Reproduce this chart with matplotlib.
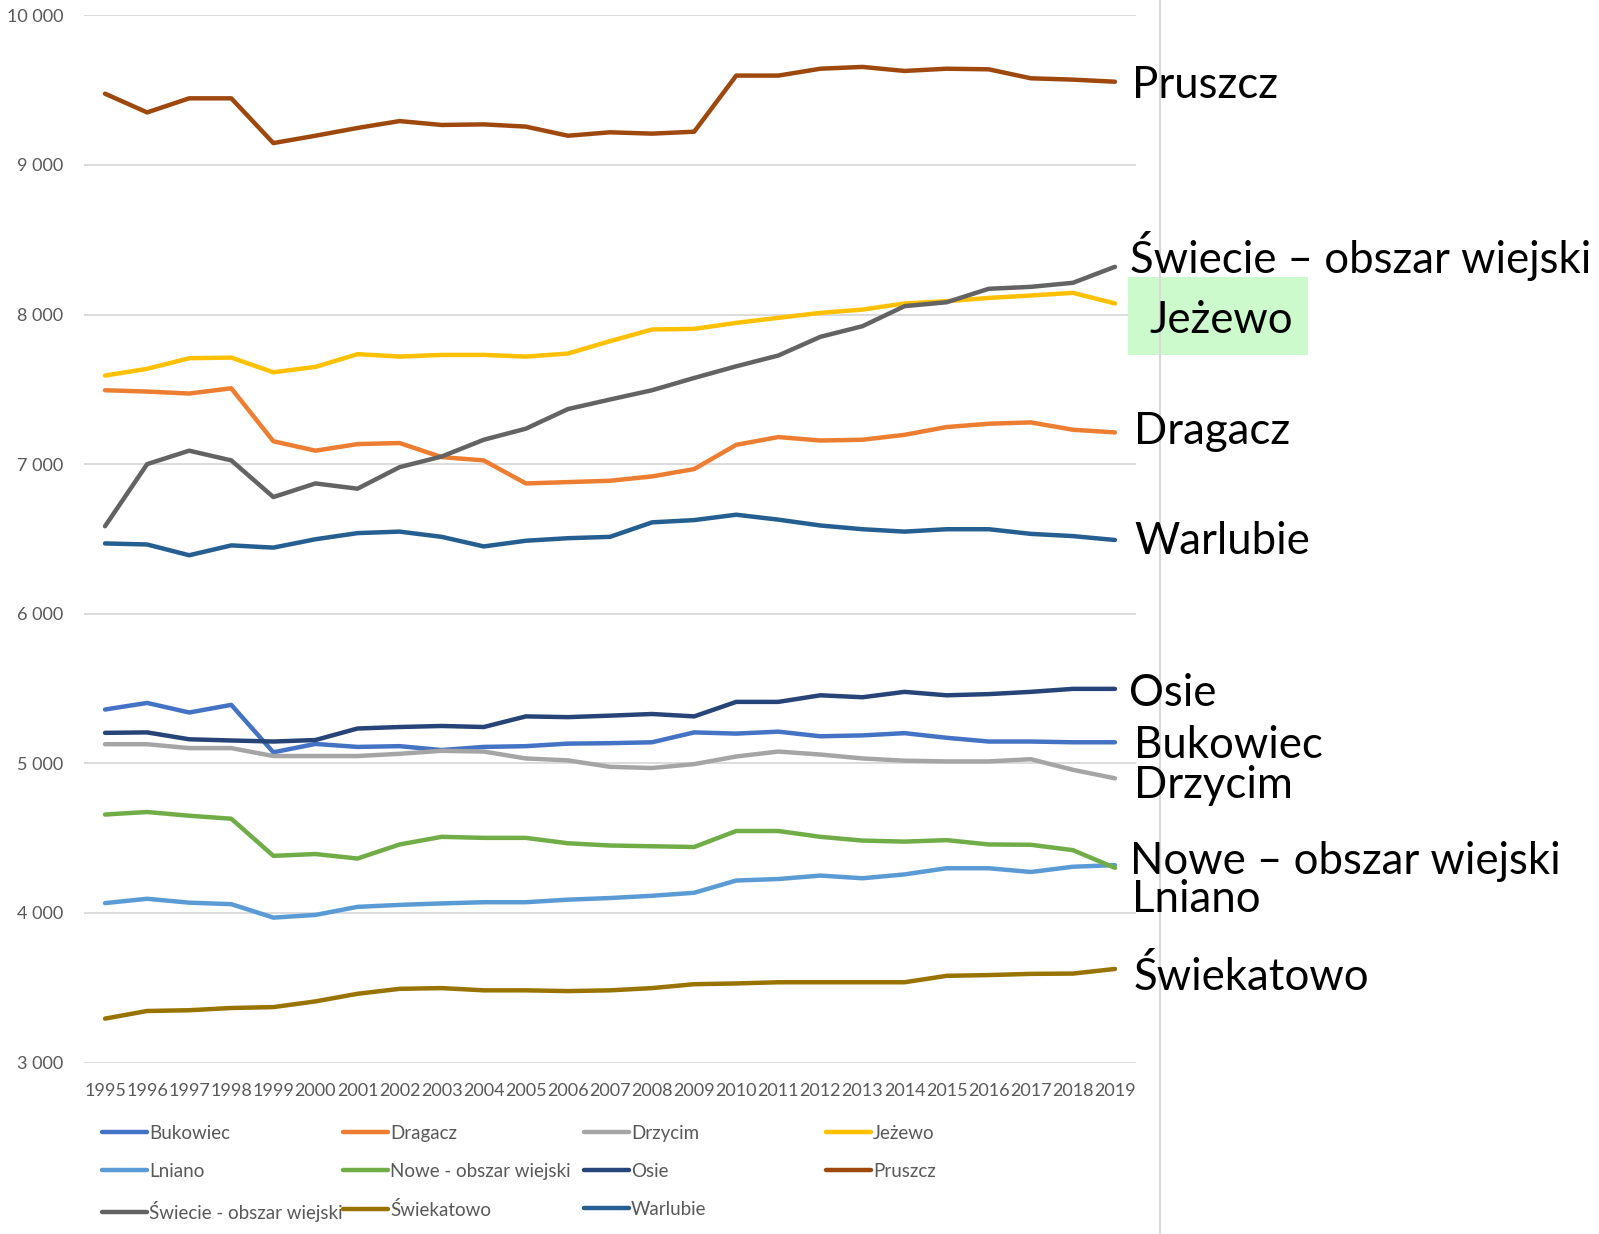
import matplotlib
matplotlib.use("Agg")
import matplotlib.pyplot as plt
from matplotlib.lines import Line2D
from matplotlib.patches import Rectangle

W, H = 1599, 1234

years = list(range(1995, 2020))

bukowiec = [5360, 5404, 5340, 5391, 5074, 5130, 5110, 5115, 5089, 5110, 5115, 5132,
            5135, 5141, 5207, 5199, 5212, 5181, 5187, 5202, 5171, 5146, 5146, 5141, 5141]
dragacz = [7494, 7485, 7472, 7507, 7153, 7090, 7134, 7141, 7047, 7025, 6871, 6880,
           6889, 6918, 6967, 7129, 7181, 7158, 7163, 7196, 7248, 7270, 7279, 7230, 7212]
drzycim = [5128, 5128, 5102, 5102, 5049, 5049, 5049, 5064, 5084, 5079, 5033, 5020,
           4977, 4969, 4995, 5046, 5079, 5059, 5033, 5018, 5013, 5013, 5028, 4957, 4900]
jezewo = [7592, 7637, 7708, 7712, 7614, 7650, 7735, 7719, 7730, 7730, 7719, 7739,
          7822, 7900, 7904, 7944, 7978, 8011, 8033, 8074, 8089, 8111, 8127, 8145, 8074]
lniano = [4066, 4095, 4069, 4059, 3969, 3987, 4041, 4054, 4064, 4072, 4072, 4089,
          4100, 4115, 4135, 4217, 4227, 4250, 4232, 4258, 4299, 4299, 4274, 4309, 4320]
nowe = [4658, 4675, 4650, 4630, 4382, 4394, 4364, 4458, 4509, 4502, 4502, 4466,
        4451, 4446, 4441, 4548, 4548, 4509, 4484, 4477, 4487, 4458, 4456, 4420, 4302]
osie = [5204, 5207, 5161, 5153, 5146, 5156, 5233, 5243, 5250, 5243, 5314, 5309,
        5319, 5330, 5314, 5411, 5411, 5455, 5442, 5478, 5455, 5463, 5478, 5498, 5498]
pruszcz = [9476, 9351, 9445, 9445, 9146, 9195, 9247, 9293, 9267, 9271, 9256, 9195,
           9218, 9209, 9222, 9597, 9597, 9643, 9655, 9628, 9643, 9639, 9579, 9570, 9556]
swiecie = [6585, 7000, 7090, 7025, 6780, 6871, 6836, 6980, 7051, 7163, 7237, 7368,
           7432, 7494, 7576, 7654, 7726, 7851, 7922, 8056, 8082, 8172, 8185, 8212, 8319]
swiekatowo = [3294, 3345, 3350, 3365, 3371, 3409, 3460, 3493, 3498, 3483, 3483, 3478,
              3483, 3498, 3524, 3529, 3537, 3537, 3537, 3537, 3580, 3585, 3593, 3595, 3626]
warlubie = [6470, 6463, 6391, 6457, 6442, 6498, 6539, 6549, 6514, 6450, 6488, 6505,
            6514, 6611, 6626, 6662, 6629, 6590, 6565, 6549, 6565, 6565, 6534, 6519, 6493]

series_names = ["Bukowiec", "Dragacz", "Drzycim", "Jeżewo", "Lniano",
                "Nowe - obszar wiejski", "Osie", "Pruszcz",
                "Świecie - obszar wiejski", "Świekatowo", "Warlubie"]
series_values = [bukowiec, dragacz, drzycim, jezewo, lniano, nowe, osie, pruszcz,
                 swiecie, swiekatowo, warlubie]
colors = ["#4472C4", "#ED7D31", "#A5A5A5", "#FFC000", "#5B9BD5", "#70AD47",
          "#264478", "#9E480E", "#636363", "#997300", "#255E91"]

yticks = [3000, 4000, 5000, 6000, 7000, 8000, 9000, 10000]
ytick_labels = ["3 000", "4 000", "5 000", "6 000", "7 000", "8 000", "9 000", "10 000"]

right_labels = ["Pruszcz", "Świecie – obszar wiejski", "Jeżewo", "Dragacz", "Warlubie",
                "Osie", "Bukowiec", "Drzycim", "Nowe – obszar wiejski", "Lniano", "Świekatowo"]

FONT = ["Lato", "DejaVu Sans"]
plt.rcParams["font.family"] = FONT

fig = plt.figure(figsize=(W / 100, H / 100), dpi=100)
fig.patch.set_facecolor("white")

def fx(x):
    return x / W

def fy(y):
    return 1 - y / H

left, right, top, bottom = 84, 1136, 15.3, 1062.6
ax = fig.add_axes([fx(left), fy(bottom), fx(right) - fx(left), fy(top) - fy(bottom)])

x = list(range(len(years)))
for name, vals, c in zip(series_names, series_values, colors):
    ax.plot(x, vals, color=c, lw=3.2, solid_capstyle="round",
            solid_joinstyle="round", label=name, zorder=3)

ax.set_xlim(-0.5, len(years) - 0.5)
ax.set_ylim(3000, 10000)
ax.set_yticks(yticks)
ax.set_yticklabels(ytick_labels)
ax.set_xticks(x)
ax.set_xticklabels([str(y) for y in years])
ax.grid(axis="y", color="#D9D9D9", lw=1.3, zorder=0)
ax.set_axisbelow(True)
for s in ax.spines.values():
    s.set_visible(False)
ax.tick_params(axis="both", length=0, colors="#595959", labelsize=13)
ax.tick_params(axis="y", pad=15)
ax.tick_params(axis="x", pad=14.5)

# legend: 4 equal-width columns, row-major order
col_x = [102, 343, 584, 826]
order = [[0, 4, 8], [1, 5, 9], [2, 6, 10], [3, 7]]
for cx, idxs in zip(col_x, order):
    hs = [Line2D([], [], color=colors[i], lw=3.2, solid_capstyle="round") for i in idxs]
    leg = fig.legend(hs, [series_names[i] for i in idxs], loc="upper left",
                     bbox_to_anchor=(fx(cx), fy(1125)), frameon=False,
                     borderpad=0, borderaxespad=0, handlelength=2.4,
                     handletextpad=0.1, labelspacing=1.11, fontsize=13.5)
    for t in leg.get_texts():
        t.set_color("#595959")

# separator line
fig.add_artist(Line2D([fx(1160), fx(1160)], [0, 1], color="#D9D9D9", lw=1.5,
                      transform=fig.transFigure))

# highlight box for Jeżewo
fig.add_artist(Rectangle((fx(1128), fy(355)), fx(1308) - fx(1128), fy(277) - fy(355),
                         transform=fig.transFigure, facecolor="#CCFACC",
                         edgecolor="none", zorder=1))

label_pos = [(1132, 85), (1130, 256), (1149, 321), (1134, 432), (1134, 541),
             (1129, 694), (1134, 745), (1134, 785), (1130, 862), (1132, 900), (1134, 977)]
for txt, (px, py) in zip(right_labels, label_pos):
    fig.text(fx(px), fy(py), txt, fontsize=31.5, color="black", ha="left",
             va="center", zorder=5)

fig.savefig("out.png", dpi=100, facecolor="white")
